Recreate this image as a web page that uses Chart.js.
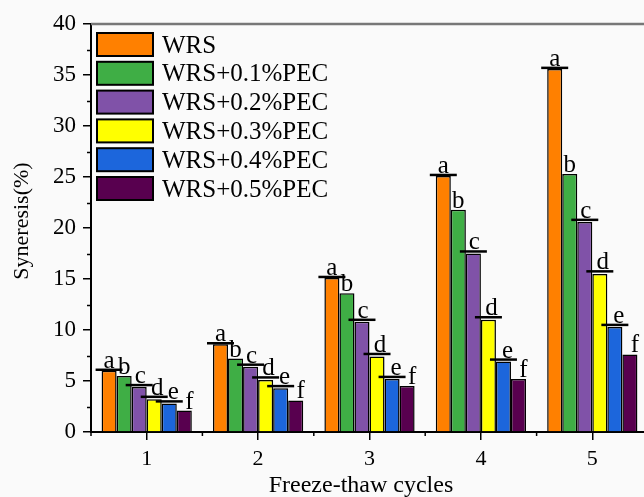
<!DOCTYPE html>
<html>
<head>
<meta charset="utf-8">
<script src="https://cdn.jsdelivr.net/npm/chart.js@4.4.0/dist/chart.umd.min.js"></script>
<style>
  html, body { margin: 0; padding: 0; overflow: hidden; background: #fafafa; }
  #wrap { width: 652px; height: 505px; }
</style>
</head>
<body>
<div id="wrap"><canvas id="c" width="652" height="505"></canvas></div>
<script>
// freeze-thaw cycles on the x axis
var cycles = ['1', '2', '3', '4', '5'];
var seriesNames = ['WRS', 'WRS+0.1%PEC', 'WRS+0.2%PEC', 'WRS+0.3%PEC', 'WRS+0.4%PEC', 'WRS+0.5%PEC'];
var seriesColors = ['#ff8000', '#3fae45', '#8052a8', '#ffff00', '#1c66dc', '#58004f'];

// syneresis values (%)
var wrs    = [6.0, 8.6, 15.1, 25.1, 35.6];
var pec01  = [5.5, 7.2, 13.6, 21.8, 25.3];
var pec02  = [4.4, 6.4, 10.8, 17.5, 20.6];
var pec03  = [3.2, 5.1, 7.4, 11.0, 15.5];
var pec04  = [2.8, 4.3, 5.2, 6.9, 10.3];
var pec05  = [2.1, 3.1, 4.5, 5.2, 7.6];

// error (only the upper cap shows)
var errWrs   = [0.1, 0.1, 0.1, 0.1, 0.1];
var err01    = [0, 0, 0, 0, 0];
var err02    = [0.2, 0.2, 0.2, 0.2, 0.2];
var err03    = [0.25, 0.25, 0.25, 0.25, 0.25];
var err04    = [0.2, 0.2, 0.2, 0.2, 0.2];
var err05    = [0, 0, 0, 0, 0];

// significance letters, same for every cycle
var letters = ['a', 'b', 'c', 'd', 'e', 'f'];

var yTicks = [0, 5, 10, 15, 20, 25, 30, 35, 40];

var values = [wrs, pec01, pec02, pec03, pec04, pec05];
var errors = [errWrs, err01, err02, err03, err04, err05];
var letterShift = [0, 0, 1, 3, 4, 5];

var serif = '"Liberation Serif", "Times New Roman", serif';

var datasets = [];
for (var i = 0; i < seriesNames.length; i++) {
  datasets.push({
    label: seriesNames[i],
    data: values[i],
    err: errors[i],
    letter: letters[i],
    backgroundColor: seriesColors[i],
    borderColor: '#000',
    borderWidth: 1.5,
    categoryPercentage: 0.81,
    barPercentage: 1.0
  });
}

var extras = {
  id: 'extras',
  beforeDraw: function(chart) {
    var ctx = chart.ctx;
    ctx.save();
    ctx.fillStyle = '#fafafa';
    ctx.fillRect(0, 0, chart.width, chart.height);
    ctx.restore();
  },
  afterDatasetsDraw: function(chart) {
    var ctx = chart.ctx;
    var y = chart.scales.y, x = chart.scales.x;
    var area = chart.chartArea;
    ctx.save();
    // error caps and letters
    chart.data.datasets.forEach(function(ds, di) {
      var meta = chart.getDatasetMeta(di);
      meta.data.forEach(function(bar, j) {
        var v = ds.data[j], e = ds.err[j];
        var py = y.getPixelForValue(v + e);
        if (e > 0) {
          ctx.strokeStyle = '#000';
          ctx.lineWidth = 2.5;
          ctx.beginPath();
          ctx.moveTo(bar.x - 13.5, py);
          ctx.lineTo(bar.x + 13.5, py);
          ctx.stroke();
        }
        ctx.fillStyle = '#000';
        ctx.font = '25px ' + serif;
        ctx.textAlign = 'center';
        ctx.textBaseline = 'alphabetic';
        ctx.fillText(ds.letter, bar.x + letterShift[di], py - 2);
      });
    });
    // top frame line
    ctx.strokeStyle = '#777';
    ctx.lineWidth = 2.5;
    ctx.beginPath();
    ctx.moveTo(area.left, area.top);
    ctx.lineTo(area.right + 10, area.top);
    ctx.stroke();
    // minor y ticks
    ctx.strokeStyle = '#000';
    ctx.lineWidth = 1.5;
    for (var k = 0; k < yTicks.length - 1; k++) {
      var mv = (yTicks[k] + yTicks[k + 1]) / 2;
      var my = Math.round(y.getPixelForValue(mv)) + 0.5;
      ctx.beginPath();
      ctx.moveTo(area.left - 4, my);
      ctx.lineTo(area.left, my);
      ctx.stroke();
    }
    // minor x ticks at category boundaries
    for (var c = 0; c <= cycles.length; c++) {
      var bx = x.getPixelForValue(c - 0.5);
      ctx.beginPath();
      ctx.moveTo(bx, area.bottom);
      ctx.lineTo(bx, area.bottom + 4);
      ctx.stroke();
    }
    // legend
    var lx = 97, ly = 33;
    for (var s = 0; s < seriesNames.length; s++) {
      var ry = ly + s * 28.8;
      ctx.fillStyle = seriesColors[s];
      ctx.fillRect(lx, ry, 56, 23);
      ctx.strokeStyle = '#000';
      ctx.lineWidth = 2;
      ctx.strokeRect(lx, ry, 56, 23);
      ctx.fillStyle = '#000';
      ctx.font = '25px ' + serif;
      ctx.textAlign = 'left';
      ctx.textBaseline = 'middle';
      ctx.fillText(seriesNames[s], 162, ry + 13);
    }
    // axis titles
    ctx.fillStyle = '#000';
    ctx.textAlign = 'center';
    ctx.textBaseline = 'middle';
    ctx.font = '24px ' + serif;
    ctx.fillText('Freeze-thaw cycles', 361, 486);
    ctx.save();
    ctx.translate(22, 221);
    ctx.rotate(-Math.PI / 2);
    ctx.font = '22px ' + serif;
    ctx.fillText('Syneresis(%)', 0, 0);
    ctx.restore();
    ctx.restore();
  }
};

new Chart(document.getElementById('c'), {
  type: 'bar',
  data: { labels: cycles, datasets: datasets },
  options: {
    responsive: false,
    animation: false,
    layout: { padding: { left: 0, right: 4, top: 24, bottom: 0 } },
    plugins: { legend: { display: false }, tooltip: { enabled: false } },
    scales: {
      x: {
        afterFit: function(s) { s.height = 73; },
        grid: { display: true, drawOnChartArea: false, offset: false, tickLength: 8, color: '#000', lineWidth: 1.5 },
        border: { display: true, color: '#000', width: 2 },
        ticks: { color: '#000', font: { family: serif, size: 22 }, padding: 6, maxRotation: 0 }
      },
      y: {
        min: 0,
        max: 40,
        afterFit: function(s) { s.width = 91; },
        afterBuildTicks: function(s) { s.ticks = yTicks.map(function(v) { return { value: v }; }); },
        grid: { display: true, drawOnChartArea: false, tickLength: 8, color: '#000', lineWidth: 1.5 },
        border: { display: true, color: '#000', width: 2 },
        ticks: { color: '#000', font: { family: serif, size: 23 }, padding: 7 }
      }
    }
  },
  plugins: [extras]
});
</script>
</body>
</html>
